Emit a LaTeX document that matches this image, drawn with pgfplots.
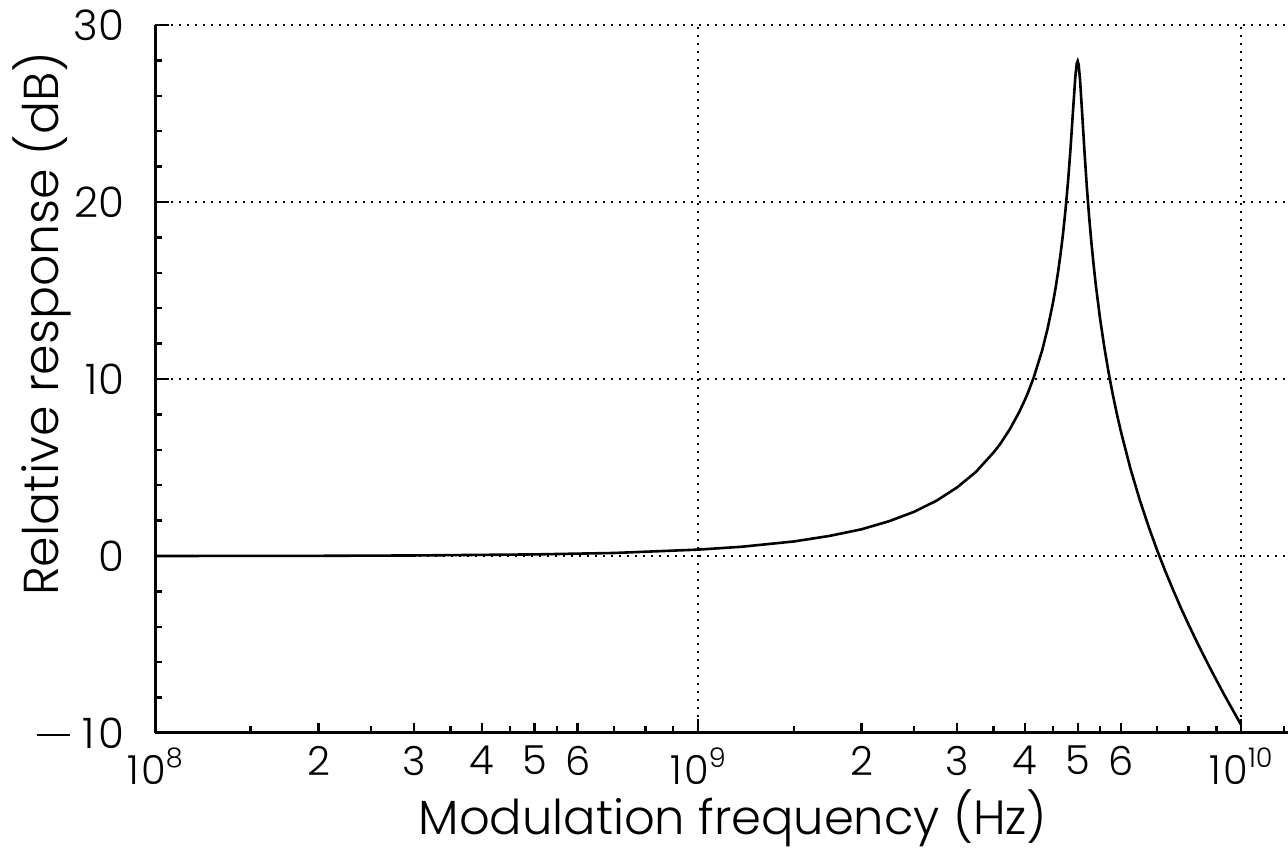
\documentclass[border=0pt]{standalone}
\usepackage{pgfplots}
\pgfplotsset{compat=1.18}
\usepackage{fontspec}
\setmainfont{Poppins Light}
\newcommand{\dec}[1]{1\kern1pt0\raisebox{0.42em}{\fontsize{13.5}{13.5}\selectfont #1}}
\begin{document}
\begin{tikzpicture}
\begin{axis}[
  scale only axis, width=566.5pt, height=354pt,
  xmode=log, xmin=1e8, xmax=1.22e10, ymin=-10, ymax=30,
  axis x line=bottom, axis y line=left,
  axis line style={-, line width=1.5pt},
  tick align=inside,
  tick style={black, line width=1.2pt},
  major tick length=7pt, minor tick length=3.5pt,
  xtick={1e8,1e9,1e10},
  xticklabels={\dec{8},\dec{9},\dec{10}},
  extra x ticks={2e8,3e8,4e8,5e8,6e8,2e9,3e9,4e9,5e9,6e9},
  extra x tick labels={2,3,4,5,6,2,3,4,5,6},
  extra x tick style={grid=none, major tick length=5pt, tick label style={font=\fontsize{14}{14}\selectfont, yshift=1pt}},
  minor xtick={1.5e8,2.5e8,3.5e8,4.5e8,5.5e8,7e8,8e8,9e8,1.5e9,2.5e9,3.5e9,4.5e9,5.5e9,7e9,8e9,9e9,1.2e10},
  ytick={-10,0,10,20,30},
  yticklabels={{\rule[0.3em]{0.8em}{0.9pt}\hspace{0.3em}1\kern1.5pt0},0,10,20,30},
  minor ytick={-8,-6,-4,-2,2,4,6,8,12,14,16,18,22,24,26,28},
  xticklabel style={font=\fontsize{20}{20}\selectfont, yshift=-4pt},
  yticklabel style={font=\fontsize{21}{21}\selectfont, xshift=-12pt},
  grid=major,
  major grid style={black, line width=1pt, dash pattern=on 1pt off 3pt},
  xlabel={Modulation frequency (Hz)},
  ylabel={Relative response (dB)},
  xlabel style={font=\fontsize{24}{24}\selectfont, at={(axis description cs:0.51,-0.12)}, anchor=center},
  ylabel style={font=\fontsize{24.5}{24.5}\selectfont, at={(axis description cs:-0.1,0.578)}, anchor=center},
]
\addplot[black, line width=1.3pt] coordinates {
(1e8,0.00) (2e8,0.01) (3e8,0.03) (5e8,0.09) (7e8,0.17) (1e9,0.36)
(1.2e9,0.52) (1.5e9,0.82) (1.75e9,1.14) (2e9,1.51) (2.25e9,1.97) (2.5e9,2.50)
(2.75e9,3.13) (3e9,3.88) (3.25e9,4.76) (3.5e9,5.85) (3.6e9,6.33) (3.75e9,7.16)
(3.9e9,8.12) (4e9,8.84) (4.05e9,9.23) (4.15e9,10.09) (4.3e9,11.61) (4.4e9,12.83)
(4.5e9,14.27) (4.55e9,15.10) (4.6e9,16.03) (4.65e9,17.07) (4.7e9,18.25) (4.75e9,19.61)
(4.8e9,21.18) (4.85e9,23.01) (4.9e9,25.08) (4.95e9,27.07) (4.98e9,27.82) (5e9,27.96)
(5.02e9,27.76) (5.05e9,26.91) (5.1e9,24.82) (5.15e9,22.67) (5.2e9,20.76) (5.25e9,19.11)
(5.3e9,17.68) (5.35e9,16.42) (5.4e9,15.29) (5.5e9,13.37) (5.6e9,11.76) (5.7e9,10.37)
(5.8e9,9.15) (5.9e9,8.06) (6e9,7.08) (6.25e9,4.96) (6.5e9,3.20) (6.75e9,1.68)
(7e9,0.34) (7.25e9,-0.86) (7.5e9,-1.94) (7.75e9,-2.95) (8e9,-3.87) (8.25e9,-4.73)
(8.5e9,-5.53) (8.75e9,-6.29) (9e9,-7.00) (9.25e9,-7.69) (9.5e9,-8.33) (9.75e9,-8.95)
(1e10,-9.54)
};
\end{axis}
\pgfresetboundingbox
\path (current axis.south west) ++(-77.5pt,-61pt) rectangle ++(644pt,427.5pt);
\end{tikzpicture}
\end{document}
